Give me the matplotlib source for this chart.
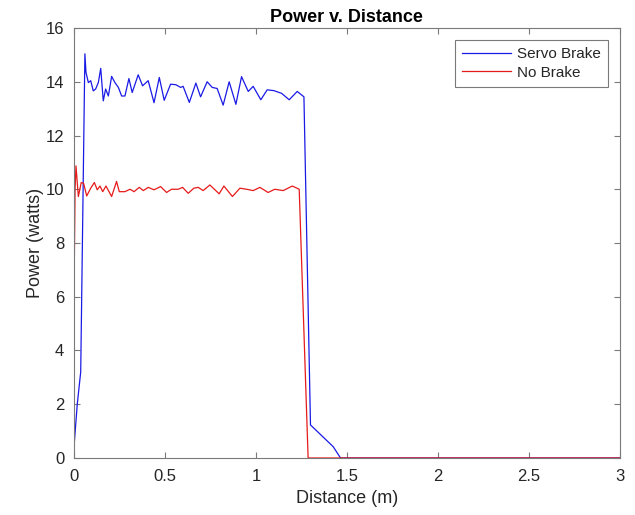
import matplotlib
matplotlib.use("Agg")
import matplotlib.pyplot as plt

plt.rcParams['font.family'] = ['Liberation Sans', 'DejaVu Sans']

# Servo Brake readings
servo_dist = [0.0, 0.018, 0.037, 0.060, 0.066, 0.079, 0.092, 0.106, 0.119, 0.134, 0.147,
              0.161, 0.174, 0.189, 0.207, 0.225, 0.244, 0.262, 0.280, 0.302, 0.320,
              0.353, 0.377, 0.408, 0.440, 0.469, 0.496, 0.531, 0.560, 0.586, 0.600,
              0.634, 0.670, 0.696, 0.732, 0.760, 0.787, 0.820, 0.853, 0.890, 0.921,
              0.958, 0.985, 1.027, 1.062, 1.099, 1.141, 1.183, 1.227, 1.264, 1.300,
              1.425, 1.465, 3.0]
servo_power = [0.4, 2.0, 3.2, 15.04, 14.35, 13.97, 14.04, 13.66, 13.73, 13.97, 14.5,
               13.29, 13.73, 13.47, 14.2, 13.97, 13.79, 13.47, 13.47, 14.12, 13.6,
               14.26, 13.85, 14.04, 13.22, 14.16, 13.31, 13.91, 13.89, 13.79, 13.83,
               13.23, 13.95, 13.44, 14.0, 13.79, 13.75, 13.13, 14.0, 13.16, 14.19,
               13.64, 13.83, 13.33, 13.7, 13.67, 13.57, 13.33, 13.64, 13.44, 1.23,
               0.42, 0.0, 0.0]

# No Brake readings
nobrake_dist = [0.0, 0.002, 0.006, 0.011, 0.024, 0.040, 0.053, 0.070, 0.092, 0.112,
                0.128, 0.143, 0.158, 0.176, 0.207, 0.234, 0.249, 0.280, 0.308, 0.330,
                0.359, 0.381, 0.408, 0.440, 0.476, 0.509, 0.536, 0.573, 0.597, 0.628,
                0.659, 0.683, 0.710, 0.747, 0.798, 0.824, 0.871, 0.912, 0.949, 0.985,
                1.022, 1.067, 1.104, 1.150, 1.200, 1.238, 1.287, 3.0]
nobrake_power = [0.2, 7.3, 10.0, 10.87, 9.73, 10.25, 10.22, 9.75, 10.04, 10.25,
                 9.98, 10.12, 9.91, 10.12, 9.73, 10.29, 9.91, 9.91, 10.0, 9.91,
                 10.07, 9.95, 10.07, 9.98, 10.1, 9.88, 10.0, 10.0, 10.07, 9.85,
                 10.04, 10.07, 9.95, 10.16, 9.83, 10.12, 9.73, 10.04, 10.0, 9.95,
                 10.07, 9.88, 10.0, 9.95, 10.12, 10.0, 0.0, 0.0]

fig = plt.figure(figsize=(6.35, 5.15), dpi=100)
ax = fig.add_axes([0.1165, 0.1107, 0.8595, 0.8349])

ax.plot(servo_dist, servo_power, color='#1a1ae6', lw=0.9, label='Servo Brake')
ax.plot(nobrake_dist, nobrake_power, color='#e61a1a', lw=0.9, label='No Brake')

ax.set_xlim(0, 3)
ax.set_ylim(0, 16)
ax.set_xticks([0, 0.5, 1, 1.5, 2, 2.5, 3])
ax.set_xticklabels(['0', '0.5', '1', '1.5', '2', '2.5', '3'])
ax.set_yticks(range(0, 17, 2))

spine_col = '#7a7a7a'
text_col = '#262626'
for s in ax.spines.values():
    s.set_color(spine_col)
    s.set_linewidth(0.8)
ax.tick_params(direction='in', top=True, right=True, length=4, width=0.8,
               colors=spine_col, labelsize=12, labelcolor=text_col)
ax.tick_params(axis='x', pad=8)
ax.tick_params(axis='y', pad=7)

ax.set_xlabel('Distance (m)', fontsize=13, color=text_col, labelpad=4)
ax.set_ylabel('Power (watts)', fontsize=13, color=text_col, labelpad=1)
ax.set_title('Power v. Distance', fontsize=13, fontweight='bold', pad=4)

leg = ax.legend(loc='upper right', fontsize=11, fancybox=False, framealpha=1,
                edgecolor=spine_col, handlelength=3.2, handletextpad=0.4,
                borderpad=0.45, labelspacing=0.3, borderaxespad=0.8)
leg.get_frame().set_linewidth(0.8)
for t in leg.get_texts():
    t.set_color(text_col)

fig.savefig('out.png', dpi=100)
